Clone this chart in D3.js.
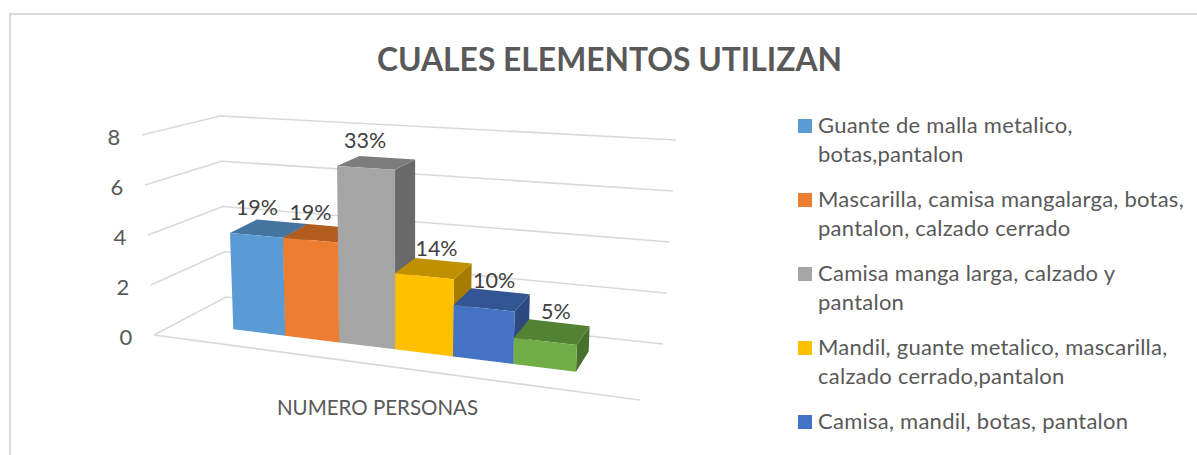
<!DOCTYPE html>
<html><head><meta charset="utf-8">
<script src="https://d3js.org/d3.v7.min.js"></script>
<style>html,body{margin:0;padding:0;background:#fff}svg{display:block}text{font-family:Lato,"Open Sans",sans-serif}</style>
</head><body><svg id="c" width="1197" height="455"></svg>
<script>
const titleText = "CUALES ELEMENTOS UTILIZAN";
const categoryLabel = "NUMERO PERSONAS";
const legendLines = [["Guante de malla metalico,","botas,pantalon"],["Mascarilla, camisa mangalarga, botas,","pantalon, calzado cerrado"],["Camisa manga larga, calzado y","pantalon"],["Mandil, guante metalico, mascarilla,","calzado cerrado,pantalon"],["Camisa, mandil, botas, pantalon"]];
const values = [4,4,7,3,2,1];
const yTicks = [0,2,4,6,8];
const frontColors = ["#5b9bd5","#ed7d31","#a5a5a5","#ffc000","#4472c4","#70ad47"];
const topColors = ["#44749f","#b35c20","#7c7c7c","#bf9000","#335593","#548235"];
const sideColors = ["#3d6a92","#9e5119","#696969","#a67c00","#2c4a80","#476f2e"];
const labelShift = [0.5,0,-1,12,10,10.5];
const labelLift = [0,0,0,0,0,2];

const svg = d3.select("#c");
const total = d3.sum(values);
const pct = d3.format(".0%");

// frame
svg.append("path").attr("d","M10,455V14H1197").attr("fill","none").attr("stroke","#d9d9d9").attr("stroke-width",2);

// walls and floor of the 3-D box
const val = d3.scaleLinear().domain([0,8]);
const fl = {x:val.copy().range([154,142]), y:val.copy().range([335,135])};
const bl = {x:val.copy().range([226,220]), y:val.copy().range([297,116])};
const br = {x:val.copy().range([663,676]), y:val.copy().range([344,140])};
const grid = svg.append("g").attr("fill","none").attr("stroke","#d9d9d9").attr("stroke-width",1.6);
grid.selectAll("path").data(yTicks).join("path")
  .attr("d",v=>d3.line()([[fl.x(v),fl.y(v)],[bl.x(v),bl.y(v)],[br.x(v),br.y(v)]]));
grid.append("line").attr("x1",fl.x(0)).attr("y1",fl.y(0)).attr("x2",640).attr("y2",400);

svg.append("g").selectAll("text").data(yTicks).join("text")
  .attr("x",v=>fl.x(v)-28).attr("y",v=>fl.y(v)+10).attr("text-anchor","middle")
  .attr("font-size",22).attr("fill","#595959").text(d=>d);

// perspective projection of bars
const index = d3.scaleLinear().domain([0,values.length]).range([0,1]);
function front(i,v){
  const t=index(i);
  const wx=1-0.106*t-0.005*v, wy=1-0.106*t-0.003*v;
  return [(233.3+281.6*t-1.975*v)/wx,(329.3+3*t-24.8*v)/wy];
}
function back(p){ return [p[0]+0.0408*(887-p[0]), p[1]-0.05*(p[1]+34)]; }
const poly = d3.line();
const bars = svg.append("g").selectAll("g").data(values).join("g");
bars.each(function(v,i){
  const g=d3.select(this);
  const a=front(i,0),b=front(i+1,0),c=front(i+1,v),d=front(i,v);
  g.append("path").attr("d",poly([b,c,back(c),back(b)])+"Z").attr("fill",sideColors[i]);
  g.append("path").attr("d",poly([d,c,back(c),back(d)])+"Z").attr("fill",topColors[i]);
  g.append("path").attr("d",poly([a,b,c,d])+"Z").attr("fill",frontColors[i]);
});
svg.append("g").selectAll("text").data(values).join("text")
  .attr("x",(v,i)=>(front(i,v)[0]+front(i+1,v)[0])/2+labelShift[i])
  .attr("y",(v,i)=>(front(i,v)[1]+front(i+1,v)[1])/2-20-labelLift[i])
  .attr("text-anchor","middle").attr("font-size",21.5).attr("fill","#404040")
  .text(v=>pct(v/total));

svg.append("text").attr("x",377.5).attr("y",415).attr("text-anchor","middle").attr("font-size",20.5).attr("fill","#595959").text(categoryLabel);
svg.append("text").attr("x",609.5).attr("y",71).attr("text-anchor","middle").attr("font-size",31.8).attr("font-weight",700).attr("fill","#595959").text(titleText);

// legend
const legendY = d3.scaleLinear().domain([0,1]).range([133,207]);
const lg = svg.append("g").selectAll("g").data(legendLines).join("g");
lg.append("rect").attr("x",798).attr("y",(d,i)=>legendY(i)-14).attr("width",14).attr("height",14).attr("fill",(d,i)=>frontColors[i]);
lg.each(function(lines,i){
  d3.select(this).selectAll("text").data(lines).join("text")
    .attr("x",818).attr("y",(l,j)=>legendY(i)+j*29).attr("font-size",22).attr("letter-spacing",0.25).attr("fill","#595959").text(l=>l);
});
</script></body></html>
